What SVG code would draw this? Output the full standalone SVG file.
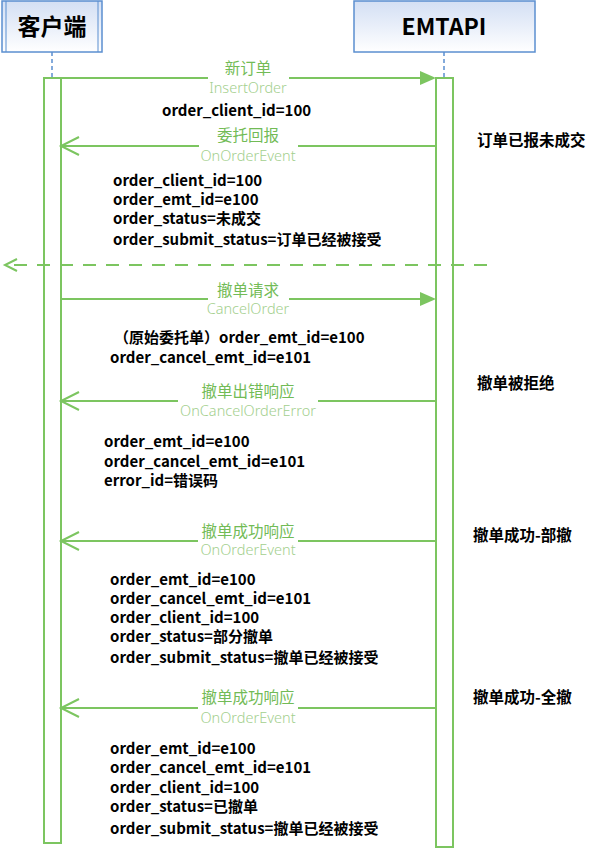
<svg xmlns="http://www.w3.org/2000/svg" width="597" height="849" viewBox="0 0 597 849">
<style>
.box{fill:url(#g);stroke:#5b8fd0;stroke-width:1.5}
.inner{stroke:#5b8fd0;stroke-width:1}
.title{font-family:"Noto Sans CJK SC","Liberation Sans",sans-serif;font-weight:bold;font-size:23px;fill:#000;text-anchor:middle}
.life{stroke:#5b8fd0;stroke-width:1.5;stroke-dasharray:4 3}
.bar{fill:#fff;stroke:#7cc560;stroke-width:2}
.msg{stroke:#7cc560;stroke-width:2;fill:none}
.head{fill:#7cc560}
.lbl{font-family:"Noto Sans CJK SC",sans-serif;font-size:15.5px;fill:#72bb56;text-anchor:middle}
.en{font-family:"Noto Sans","Open Sans",sans-serif;font-weight:300;font-size:14.5px;fill:#a3cf8e;text-anchor:middle}
.t{font-family:"Noto Sans CJK SC","Liberation Sans",sans-serif;font-weight:bold;font-size:15px;fill:#000}
.r{font-size:15.5px}
.dash{stroke:#7cc560;stroke-width:2;stroke-dasharray:13 10;fill:none}
</style>
<defs>
<linearGradient id="g" x1="0" y1="0" x2="0" y2="1">
<stop offset="0" stop-color="#d3dff4"/>
<stop offset="1" stop-color="#ffffff"/>
</linearGradient>
</defs>
<rect width="597" height="849" fill="#fff"/>
<g id="client">
<rect class="box" x="2" y="1" width="100" height="51"/>
<line class="inner" x1="6" y1="1" x2="6" y2="52"/>
<line class="inner" x1="98" y1="1" x2="98" y2="52"/>
<text class="title" x="52" y="35">客户端</text>
<line class="life" x1="52" y1="52" x2="52" y2="78"/>
<rect class="bar" x="44" y="78" width="17" height="765"/>
</g>
<g id="emtapi">
<rect class="box" x="354" y="1" width="181" height="51"/>
<text class="title" x="444" y="35">EMTAPI</text>
<line class="life" x1="444" y1="52" x2="444" y2="78"/>
<rect class="bar" x="436" y="78" width="17" height="769"/>
</g>
<g id="connectors">
<path class="msg" d="M61 78H208M289 78H421"/>
<polygon class="head" points="436,78 420,71 420,85"/>
<path class="msg" d="M436 146H298M199 146H61M79 137L61 146L79 155"/>
<path class="dash" d="M487 265H5"/>
<path class="msg" d="M17 259L5 265L17 271"/>
<path class="msg" d="M61 299H208M289 299H421"/>
<polygon class="head" points="436,299 420,292 420,306"/>
<path class="msg" d="M436 401H318M178 401H61M79 392L61 401L79 410"/>
<path class="msg" d="M436 541H298M198 541H61M79 532L61 541L79 550"/>
<path class="msg" d="M436 708H298M198 708H61M79 699L61 708L79 717"/>
</g>
<g id="labels">
<text class="lbl" x="248" y="74">新订单</text>
<text class="en" x="248" y="93">InsertOrder</text>
<text class="lbl" x="248" y="141">委托回报</text>
<text class="en" x="248" y="161">OnOrderEvent</text>
<text class="lbl" x="248" y="296">撤单请求</text>
<text class="en" x="248" y="314">CancelOrder</text>
<text class="lbl" x="248" y="397">撤单出错响应</text>
<text class="en" x="248" y="416">OnCancelOrderError</text>
<text class="lbl" x="248" y="537">撤单成功响应</text>
<text class="en" x="248" y="555">OnOrderEvent</text>
<text class="lbl" x="248" y="703">撤单成功响应</text>
<text class="en" x="248" y="723">OnOrderEvent</text>
</g>
<g id="notes">
<text class="t" x="162" y="116">order_client_id=100</text>
<text class="t" x="113" y="186">order_client_id=100</text>
<text class="t" x="113" y="205">order_emt_id=e100</text>
<text class="t" x="113" y="224">order_status=未成交</text>
<text class="t" x="113" y="245">order_submit_status=订单已经被接受</text>
<text class="t" x="114" y="343">（原始委托单）order_emt_id=e100</text>
<text class="t" x="110" y="363">order_cancel_emt_id=e101</text>
<text class="t" x="104" y="447">order_emt_id=e100</text>
<text class="t" x="104" y="467">order_cancel_emt_id=e101</text>
<text class="t" x="104" y="486">error_id=错误码</text>
<text class="t" x="110" y="585">order_emt_id=e100</text>
<text class="t" x="110" y="604">order_cancel_emt_id=e101</text>
<text class="t" x="110" y="623">order_client_id=100</text>
<text class="t" x="110" y="642">order_status=部分撤单</text>
<text class="t" x="110" y="663">order_submit_status=撤单已经被接受</text>
<text class="t" x="110" y="754">order_emt_id=e100</text>
<text class="t" x="110" y="773">order_cancel_emt_id=e101</text>
<text class="t" x="110" y="793">order_client_id=100</text>
<text class="t" x="110" y="812">order_status=已撤单</text>
<text class="t" x="110" y="834">order_submit_status=撤单已经被接受</text>
<text class="t r" x="477" y="146">订单已报未成交</text>
<text class="t r" x="477" y="389">撤单被拒绝</text>
<text class="t r" x="473" y="541">撤单成功-部撤</text>
<text class="t r" x="473" y="703">撤单成功-全撤</text>
</g>
</svg>
